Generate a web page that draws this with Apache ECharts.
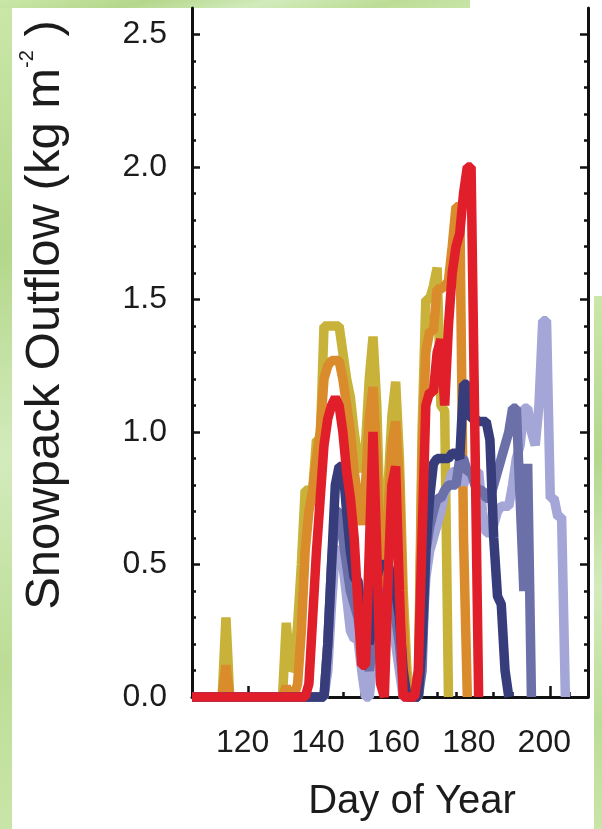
<!DOCTYPE html>
<html>
<head>
<meta charset="utf-8">
<script src="https://cdn.jsdelivr.net/npm/echarts@6/dist/echarts.min.js"></script>
<style>
  html, body { margin: 0; padding: 0; background: #ffffff; }
  .tex { position: absolute; background: linear-gradient(165deg, #cbe7a9 0%, #b3d78b 30%, #d3ebbc 55%, #bcdd96 80%, #c9e5a8 100%); }
  #chart { position: absolute; left: 0; top: 0; width: 602px; height: 829px; }
</style>
</head>
<body>
<div class="tex" style="left:0;top:0;width:12px;height:829px;"></div>
<div class="tex" style="left:0;top:0;width:470px;height:8px;"></div>
<div class="tex" style="left:594px;top:296px;width:8px;height:533px;"></div>
<div id="chart"></div>
<script>
// Day of year (x)
const days = [105,106,107,108,109,110,111,112,113,114,115,116,117,118,119,120,121,122,123,124,
  125,126,127,128,129,130,131,132,133,134,135,136,137,138,139,140,141,142,143,144,
  145,146,147,148,149,150,151,152,153,154,155,156,157,158,159,160,161,162,163,164,
  165,166,167,168,169,170,171,172,173,174,175,176,177,178,179,180,181,182,183,184,
  185,186,187,188,189,190,191,192,193,194,195,196,197,198,199,200,201,202,203,204,
  205,206];

// Snowpack outflow (kg m-2), one value per day, null after melt-out
const yellowVals = [0,0,0,0,0,0,0,0,0,0.30,0,0,0,0,0,0,0,0,0,0,
  0,0,0,0,0,0.28,0.10,0.12,0.27,0.50,0.78,0.78,0.78,0.97,0.97,1.40,1.40,1.40,1.40,1.40,
  1.30,1.20,1.13,1.00,0.90,0.85,0.95,1.20,1.36,1.10,0.60,0.50,0.80,1.06,1.19,0.90,0.40,0.10,0,0,
  0,1.00,1.50,1.50,1.55,1.62,1.10,1.08,0,null,null,null,null,null,null,null,null,null,null,null,
  null,null,null,null,null,null,null,null,null,null,null,null,null,null,null,null,null,null,null,null,
  null,null];
const orangeVals = [0,0,0,0,0,0,0,0,0,0.12,0,0,0,0,0,0,0,0,0,0,
  0,0,0,0,0,0.04,0,0,0.05,0.25,0.55,0.70,0.78,0.90,1.00,1.20,1.25,1.27,1.27,1.27,
  1.20,1.10,1.00,0.85,0.75,0.65,0.80,1.05,1.17,0.90,0.45,0.40,0.70,0.95,1.04,0.80,0.30,0,0,0,
  0,0.90,1.30,1.38,1.38,1.54,1.54,1.55,1.57,1.70,1.85,1.85,0.60,0,null,null,null,null,null,null,
  null,null,null,null,null,null,null,null,null,null,null,null,null,null,null,null,null,null,null,null,
  null,null];
const redVals = [0,0,0,0,0,0,0,0,0,0,0,0,0,0,0,0,0,0,0,0,
  0,0,0,0,0,0,0,0,0,0,0,0.05,0.30,0.55,0.75,0.95,1.05,1.10,1.13,1.10,
  1.00,0.85,0.75,0.60,0.35,0.12,0.12,0.55,1.00,0.55,0.05,0,0.45,0.80,0.87,0.40,0,0,0,0,
  0.10,0.60,1.10,1.15,1.15,1.30,1.35,1.10,1.40,1.60,1.70,1.75,1.90,2.00,2.00,1.00,0,null,null,null,
  null,null,null,null,null,null,null,null,null,null,null,null,null,null,null,null,null,null,null,null,
  null,null];
const navyVals = [0,0,0,0,0,0,0,0,0,0,0,0,0,0,0,0,0,0,0,0,
  0,0,0,0,0,0,0,0,0,0,0,0,0,0,0,0,0.20,0.50,0.80,0.87,
  0.87,0.70,0.55,0.45,0.44,0.30,0.25,0.20,0.30,0.45,0.50,0.50,0.50,0.45,0.40,0.30,0.10,0,0,0,
  0,0.20,0.55,0.75,0.88,0.90,0.90,0.90,0.90,0.92,0.92,0.90,1.18,1.18,1.05,1.05,1.04,1.04,1.04,0.97,
  0.60,0.38,0.35,0.10,0,null,null,null,null,null,null,null,null,null,null,null,null,null,null,null,
  null,null];
const midVals = [0,0,0,0,0,0,0,0,0,0,0,0,0,0,0,0,0,0,0,0,
  0,0,0,0,0,0,0,0,0,0,0,0,0,0,0,0,0.20,0.50,0.70,0.70,
  0.60,0.50,0.40,0.35,0.30,0.20,0.15,0.10,0.20,0.30,0.35,0.40,0.40,0.38,0.30,0.20,0.05,0,0,0,
  0,0.10,0.55,0.64,0.70,0.75,0.75,0.78,0.80,0.80,0.80,0.90,0.90,0.85,0.85,0.80,0.78,0.78,0.75,0.75,
  0.80,0.85,0.90,0.95,1.00,1.09,1.09,0.75,0.40,0.88,0,null,null,null,null,null,null,null,null,null,
  null,null];
const lavenderVals = [0,0,0,0,0,0,0,0,0,0,0,0,0,0,0,0,0,0,0,0,
  0,0,0,0,0,0,0,0,0,0,0,0,0,0,0,0,0.10,0.35,0.55,0.56,
  0.50,0.38,0.25,0.22,0.22,0.10,0,0,0.15,0.25,0.28,0.30,0.30,0.30,0.20,0.10,0,0,0,0,
  0,0.20,0.45,0.55,0.60,0.65,0.70,0.77,0.80,0.85,0.85,0.85,0.80,0.85,0.85,0.85,0.85,0.70,0.62,0.62,
  0.65,0.70,0.72,0.72,0.72,0.80,0.90,0.95,1.09,1.09,1.00,0.95,1.10,1.42,1.42,0.75,0.75,0.68,0.68,0,
  null,null];

// Tick values / labels
const xMajorTicks = [120, 140, 160, 180, 200];
const xMinorTicks = [110,115,125,130,135,145,150,155,165,170,175,185,190,195,205];
const yMajorTicks = [0, 0.5, 1.0, 1.5, 2.0, 2.5];
const yMinorTicks = [0.1,0.2,0.3,0.4,0.6,0.7,0.8,0.9,1.1,1.2,1.3,1.4,1.6,1.7,1.8,1.9,2.1,2.2,2.3,2.4];

const seriesDefs = [
  { name: 'yellow', color: '#c9b23a', vals: yellowVals },
  { name: 'orange', color: '#da8b2c', vals: orangeVals },
  { name: 'lavender', color: '#a3a6d6', vals: lavenderVals },
  { name: 'mid', color: '#6b70a9', vals: midVals },
  { name: 'navy', color: '#363d7a', vals: navyVals },
  { name: 'red', color: '#e11f2b', vals: redVals }
];

const FONT = '"Liberation Sans", Arial, Helvetica, sans-serif';
const X_MIN = 105, X_MAX = 210, Y_MIN = 0, Y_MAX = 2.6;

function xAxisBase(extra) {
  return Object.assign({
    type: 'value', min: X_MIN, max: X_MAX, position: 'bottom',
    splitLine: { show: false }
  }, extra);
}
function yAxisBase(extra) {
  return Object.assign({
    type: 'value', min: Y_MIN, max: Y_MAX,
    splitLine: { show: false }
  }, extra);
}

const chart = echarts.init(document.getElementById('chart'), null, { renderer: 'canvas' });
chart.setOption({
  animation: false,
  backgroundColor: 'transparent',
  grid: { left: 192, right: 14, top: 8, bottom: 132, containLabel: false },
  xAxis: [
    xAxisBase({
      axisLine: { show: true, lineStyle: { color: '#111', width: 3 } },
      axisTick: { show: true, inside: true, length: 11, lineStyle: { color: '#111', width: 2.5 }, customValues: xMajorTicks },
      axisLabel: { show: true, customValues: xMajorTicks, color: '#1c1c1c', fontSize: 32, fontFamily: FONT, margin: 30, padding: [0, 12, 0, 0] }
    }),
    xAxisBase({
      axisLine: { show: false },
      axisTick: { show: true, inside: true, length: 5, lineStyle: { color: '#111', width: 2.5 }, customValues: xMinorTicks },
      axisLabel: { show: false }
    })
  ],
  yAxis: [
    yAxisBase({
      position: 'left',
      axisLine: { show: true, lineStyle: { color: '#111', width: 3 } },
      axisTick: { show: true, inside: true, length: 8, lineStyle: { color: '#111', width: 2.5 }, customValues: yMajorTicks },
      axisLabel: { show: true, customValues: yMajorTicks, color: '#1c1c1c', fontSize: 32, fontFamily: FONT, margin: 25,
        formatter: v => Number(v).toFixed(1) }
    }),
    yAxisBase({
      position: 'left',
      axisLine: { show: false },
      axisTick: { show: true, inside: true, length: 4, lineStyle: { color: '#111', width: 2.5 }, customValues: yMinorTicks },
      axisLabel: { show: false }
    }),
    yAxisBase({
      position: 'right',
      axisLine: { show: true, lineStyle: { color: '#111', width: 3 } },
      axisTick: { show: true, inside: true, length: 8, lineStyle: { color: '#111', width: 2.5 }, customValues: yMajorTicks },
      axisLabel: { show: false }
    }),
    yAxisBase({
      position: 'right',
      axisLine: { show: false },
      axisTick: { show: true, inside: true, length: 4, lineStyle: { color: '#111', width: 2.5 }, customValues: yMinorTicks },
      axisLabel: { show: false }
    })
  ],
  graphic: [
    {
      type: 'text', x: 45, y: 315, rotation: Math.PI / 2, silent: true,
      style: {
        text: '{a|Snowpack Outflow (kg m}{s|-2}{a| )}',
        align: 'center', verticalAlign: 'middle',
        rich: {
          a: { fontSize: 49, fontFamily: FONT, fill: '#1c1c1c', lineHeight: 56 },
          s: { fontSize: 20, fontFamily: FONT, fill: '#1c1c1c', lineHeight: 30, verticalAlign: 'top' }
        }
      }
    },
    {
      type: 'text', x: 412, y: 802, silent: true,
      style: { text: 'Day of Year', fontSize: 40, fontFamily: FONT, fill: '#1c1c1c', align: 'center', verticalAlign: 'middle' }
    }
  ],
  series: seriesDefs.map(s => ({
    name: s.name, type: 'line', xAxisIndex: 0, yAxisIndex: 0,
    data: days.map((d, i) => [d, s.vals[i]]),
    showSymbol: false, symbol: 'none', clip: false, connectNulls: false,
    lineStyle: { color: s.color, width: 9.5, join: 'bevel', cap: 'butt' },
    emphasis: { disabled: true }
  }))
});
</script>
</body>
</html>
